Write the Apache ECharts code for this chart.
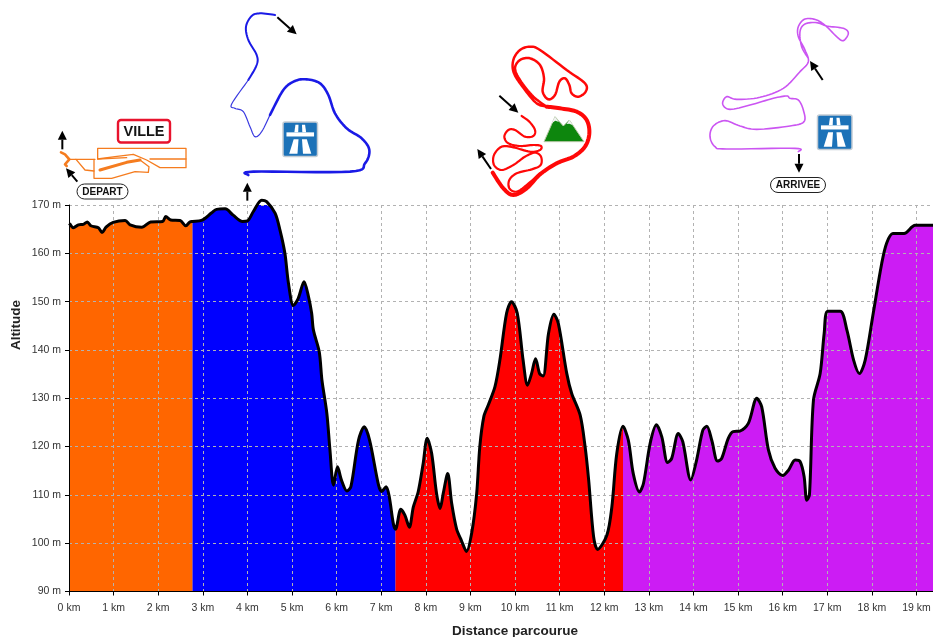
<!DOCTYPE html>
<html><head><meta charset="utf-8">
<style>html,body{margin:0;padding:0;background:#fff}#c{width:933px;height:637px}</style>
<script src="https://cdn.jsdelivr.net/npm/echarts@6/dist/echarts.min.js"></script>
</head><body><div id="c"></div>
<script>
// Distance (km) / altitude (m), one list per road section
const kmCity = [0.01,0.1,0.21,0.32,0.41,0.49,0.66,0.74,0.83,0.99,1.26,1.37,1.63,1.83,2.1,2.17,2.28,2.49,2.62,2.71,2.77];
const altCity = [166.2,165.3,165.9,166,166.5,165.7,165.3,164.3,165.4,166.4,166.8,165.9,165.4,166.5,166.6,167.6,166.9,166.8,165.7,166.5,166.6];
const kmMotorway1 = [2.77,2.97,3.2,3.31,3.5,3.68,3.89,4.0,4.13,4.32,4.43,4.62,4.73,4.84,4.92,5.03,5.14,5.27,5.37,5.44,5.48,5.61,5.67,5.78,5.85,5.93,6.02,6.11,6.23,6.32,6.49,6.62,6.74,6.94,7.01,7.11,7.18,7.27,7.32];
const altMotorway1 = [166.6,166.8,168.4,169.1,169.2,167.9,166.6,166.7,168.6,171,170.7,168.3,164.8,160,153.8,149.2,150.7,154.1,151,147.6,144.1,139.6,133.8,126.9,119.3,112,115.8,113,110.8,111.7,121.3,124.1,121.3,112,110.7,111.7,109.6,104.1,102.9];
const kmMountain = [7.32,7.44,7.53,7.63,7.72,7.83,7.94,8.03,8.13,8.24,8.32,8.39,8.49,8.58,8.69,8.8,8.91,9.03,9.14,9.21,9.3,9.4,9.55,9.66,9.81,9.92,10.05,10.18,10.28,10.37,10.46,10.55,10.63,10.75,10.87,10.97,11.16,11.27,11.46,11.57,11.65,11.76,11.85,12.06,12.17,12.28,12.42];
const altMountain = [102.9,107,105.8,103.3,107.5,110.7,116.5,121.7,118.6,110.3,107.2,110.3,114.4,108.2,102.9,100.5,98.3,102.2,110.3,120,126.2,128.6,132.4,137.9,147.6,150,147.6,137.9,132.7,135.1,138.2,135.1,134.6,143.4,147.4,145.5,135.1,131,126.5,120,113.1,101.4,98.7,101.7,107.5,118.5,124.2];
const kmMotorway2 = [12.42,12.54,12.65,12.79,12.88,13.03,13.17,13.29,13.42,13.51,13.66,13.76,13.94,14.07,14.21,14.3,14.41,14.54,14.63,14.78,14.89,15.04,15.23,15.42,15.53,15.68,15.83,16,16.13,16.28,16.39,16.48,16.54,16.6,16.69,16.84,16.93,17.01,17.29,17.44,17.59,17.72,17.85,18.03,18.22,18.33,18.47,18.72,18.97,19.37];
const altMotorway2 = [124.2,121.3,114.4,110.6,112.4,120.7,124.5,122,116.7,117.5,122.7,121,113.1,117.2,123.4,124.2,121.3,117,117.5,121.7,123.1,123.2,124.8,130,128.2,119.3,115.5,114,115.1,117.2,116.9,113.8,108.9,110,129.6,135.1,143.4,148,148,144.1,137.9,135.1,137.9,147.6,157.9,162.1,164.1,164.1,165.8,165.8];
const sectionColors = ['#ff6600','#0000ff','#ff0000','#cc1cf4'];
const xName = 'Distance parcourue';
const yName = 'Altitude';

const sections = [[kmCity,altCity],[kmMotorway1,altMotorway1],[kmMountain,altMountain],[kmMotorway2,altMotorway2]];
const pairs = (k,a)=>k.map((v,i)=>[v,a[i]]);
const profile = sections.flatMap((s,i)=>pairs(s[0],s[1]).slice(i?1:0));

// ---- route sketches above the chart (decoration) ----
const z1 = p=>p.map(q=>[q[0]/3,q[1]/3]);
const z2 = p=>p.map(q=>[q[0]/3+440,q[1]/3]);
const zo = p=>p.map(q=>[50+q[0]/3,115+q[1]/3]);
const zr = p=>p.map(q=>[470+q[0]/3,40+q[1]/3]);
function spline(p){
  const out=[];
  for(let i=0;i<p.length-1;i++){
    const a=p[Math.max(i-1,0)],b=p[i],c=p[i+1],d=p[Math.min(i+2,p.length-1)];
    for(let k=0;k<8;k++){
      const t=k/8,t2=t*t,t3=t2*t;
      out.push([0,1].map(j=>0.5*(2*b[j]+(c[j]-a[j])*t+(2*a[j]-5*b[j]+4*c[j]-d[j])*t2+(3*b[j]-a[j]-3*c[j]+d[j])*t3)));
    }
  }
  out.push(p[p.length-1]);
  return out;
}
const gfx = [];
const track=(pts,color,w,curve=true)=>gfx.push({type:'polyline',silent:true,z:10,shape:{points:curve?spline(pts):pts},style:{fill:null,stroke:color,lineWidth:w,lineJoin:'round',lineCap:'round'}});
const poly=(pts,fill,stroke,w)=>gfx.push({type:'polygon',silent:true,z:11,shape:{points:pts},style:{fill,stroke:stroke||null,lineWidth:w||0}});
function arrow(a,b){
  const dx=b[0]-a[0],dy=b[1]-a[1],l=Math.hypot(dx,dy),ux=dx/l,uy=dy/l,h=9,w=4.5;
  const bx=b[0]-ux*h,by=b[1]-uy*h;
  gfx.push({type:'line',silent:true,z:11,shape:{x1:a[0],y1:a[1],x2:bx,y2:by},style:{stroke:'#000',lineWidth:2}});
  poly([b,[bx-uy*w,by+ux*w],[bx+uy*w,by-ux*w]],'#000');
}
function pill(x,y,w,h,t){
  gfx.push({type:'rect',silent:true,z:11,shape:{x,y,width:w,height:h,r:h/2},style:{fill:'#fff',stroke:'#222',lineWidth:1}});
  gfx.push({type:'text',silent:true,z:12,x:x+w/2,y:y+h/2+.5,style:{text:t,fill:'#111',font:'bold 10px "Liberation Sans"',align:'center',verticalAlign:'middle'}});
}
function motorway(x,y){
  const s=34.5, P=(a,b)=>[x+a*s,y+b*s];
  gfx.push({type:'rect',silent:true,z:11,shape:{x,y,width:s,height:s,r:2},style:{fill:'#1c72b8',stroke:'#c3ccd4',lineWidth:1.5}});
  poly([P(.36,.08),P(.45,.08),P(.44,.3),P(.33,.3)],'#fff');
  poly([P(.55,.08),P(.64,.08),P(.67,.3),P(.56,.3)],'#fff');
  poly([P(.1,.3),P(.9,.3),P(.9,.42),P(.1,.42)],'#fff');
  poly([P(.31,.5),P(.45,.5),P(.42,.92),P(.18,.92)],'#fff');
  poly([P(.55,.5),P(.69,.5),P(.82,.92),P(.58,.92)],'#fff');
}
// blue
const blue='#1a1ae6';
track(z1([[825,45],[780,40],[755,48],[738,80],[745,120],[770,165],[770,195],[745,240]]),blue,2);
track(z1([[745,240],[695,312],[705,325],[730,335],[750,380],[765,410],[785,395],[810,345]]),'#3a3ae0',1.2);
track(z1([[810,345],[850,270],[885,243],[920,238],[960,250],[985,285],[1005,340],[1040,385],[1085,415],[1108,450],[1095,490],[1050,515],[760,515],[745,525]]),blue,2.6);
// orange
const orange='#f57c1f';
track(zo([[143,132],[143,100],[408,100],[408,158],[330,158],[290,135],[250,118],[195,125],[143,132]]),orange,1.3,false);
track(zo([[58,133],[135,133]]),orange,1.3,false);
track(zo([[143,132],[230,128]]),orange,1.3,false);
track(zo([[300,132],[408,132]]),orange,1.3,false);
track(zo([[132,133],[132,190],[185,190],[255,170],[295,172],[297,155],[270,135],[230,142],[150,165]]),orange,1.3,false);
track(zo([[150,165],[230,142],[270,135]]),orange,3,false);
track(zo([[78,133],[105,165],[132,168]]),orange,1.3,false);
track(zo([[33,112],[45,118],[58,133],[45,148],[50,153]]),orange,2.6,false);
// red
const red='#ff0808';
track(zr([[155,228],[178,245],[195,270],[190,288],[165,290],[135,270],[115,270],[103,290],[115,310],[150,318],[190,315],[213,318],[210,330],[180,335],[130,322],[95,320],[72,345],[72,375],[95,390],[130,375],[165,350],[195,338],[213,350],[212,375],[185,388],[140,400],[118,420],[118,445],[140,455],[170,435],[210,400]]),red,2.2);
track(zr([[68,398],[100,445],[130,465],[170,445],[210,403],[260,370],[310,350],[345,320],[358,280],[350,240],[320,215],[270,205],[230,200]]),red,4);
track(zr([[230,200],[190,170],[150,120],[135,85],[150,60],[180,55],[210,75],[222,115],[218,155],[235,178],[255,165],[268,125],[285,115],[298,135],[305,160],[325,170],[347,155],[345,130],[290,90],[210,30],[180,20],[150,30],[130,60],[132,100],[165,150],[200,190],[230,200]]),red,2.5);
// purple
track(z2([[1075,455],[1065,445],[860,447],[825,440],[810,410],[820,378],[855,362],[900,378],[950,388],[1050,378],[1092,365],[1090,330],[1075,300],[1050,295],[1040,288],[1000,295],[930,315],[870,328],[848,312],[860,290],[890,298],[960,292],[1030,265],[1080,215],[1105,185],[1095,150],[1075,110],[1075,80],[1095,57],[1130,60],[1160,80],[1190,110],[1210,122],[1225,100],[1210,85],[1160,78],[1130,68],[1095,72],[1080,95],[1085,140],[1105,175]]),'#cb55f2',1.6);
// mountain icon
poly(zr([[222,305],[255,230],[280,258],[298,240],[342,305]]),'#0d860d','#b8c8a8',1);
poly(zr([[245,250],[255,230],[267,246],[256,242]]),'#f2f2f2');
poly(zr([[290,252],[298,240],[309,256],[298,251]]),'#f2f2f2');
track(zr([[245,258],[262,268],[240,282],[262,292],[250,302]]),'#b6e08a',1,false);
track(zr([[270,285],[285,277],[282,298],[298,282],[315,275]]),'#b6e08a',1,false);
// signs
motorway(283,122); motorway(817.5,115);
gfx.push({type:'rect',silent:true,z:11,shape:{x:118,y:120,width:52,height:22.5,r:3},style:{fill:'#fff',stroke:'#e8132d',lineWidth:2.4}});
gfx.push({type:'text',silent:true,z:12,x:144,y:131.8,style:{text:'VILLE',fill:'#151515',font:'bold 14.5px "Liberation Sans"',align:'center',verticalAlign:'middle'}});
pill(77,184,51,15,'DEPART'); pill(770.5,177.5,55,15,'ARRIVEE');
[[[187,448],[187,392]],[[232,545],[198,505]],[[832,52],[890,103]],[[742,602],[742,548]]].forEach(a=>arrow(...z1(a)));
[[[178,287],[235,338]],[[153,507],[112,447]],[[1148,240],[1110,183]],[[1077,462],[1077,518]]].forEach(a=>arrow(...z2(a)));
// axis titles, placed off-centre as in the reference
gfx.push({type:'text',silent:true,z:12,x:515,y:631,style:{text:xName,fill:'#222',font:'bold 13.5px "Liberation Sans"',align:'center',verticalAlign:'middle'}});
gfx.push({type:'text',silent:true,z:12,x:16,y:325,rotation:Math.PI/2,style:{text:yName,fill:'#222',font:'bold 13.5px "Liberation Sans"',align:'center',verticalAlign:'middle'}});

const axisText={color:'#333',fontFamily:'"Liberation Sans"',fontSize:10.5};
const dashed={show:true,lineStyle:{type:[3,3],color:'#b2b2b2',width:1}};
const chart=echarts.init(document.getElementById('c'),null,{renderer:'canvas'});
chart.setOption({
  animation:false,backgroundColor:'#fff',
  grid:{left:69,right:0,top:205,bottom:45.5,containLabel:false,outerBoundsMode:'none'},
  xAxis:{type:'value',min:0,max:19.37,interval:1,z:2,
    axisLine:{onZero:false,lineStyle:{color:'#000',width:1}},axisTick:{show:true,length:4,lineStyle:{color:'#000'}},
    axisLabel:{...axisText,formatter:'{value} km',showMaxLabel:false,hideOverlap:false,margin:11},splitLine:dashed},
  yAxis:{type:'value',min:90,max:170,interval:10,z:2,
    axisLine:{show:true,onZero:false,lineStyle:{color:'#000',width:1}},axisTick:{show:true,length:4,lineStyle:{color:'#000'}},
    axisLabel:{...axisText,formatter:'{value} m',margin:8},splitLine:dashed},
  series:[
    ...sections.map((s,i)=>({type:'line',z:1,data:pairs(s[0],s[1]),smooth:0.3,showSymbol:false,silent:true,clip:true,
      lineStyle:{width:0},areaStyle:{color:sectionColors[i],opacity:1,origin:'start'},
      markLine:i<3?{silent:true,symbol:'none',label:{show:false},z:1,lineStyle:{color:'#d8d4dc',type:'solid',width:1},
        data:[[{coord:[s[0][s[0].length-1],90]},{coord:[s[0][s[0].length-1],s[1][s[1].length-1]]}]]}:undefined})),
    {type:'line',z:3,data:profile,smooth:0.3,showSymbol:false,silent:true,clip:false,lineStyle:{color:'#000',width:3,join:'round'}}
  ],
  graphic:{elements:gfx}
});
</script></body></html>
